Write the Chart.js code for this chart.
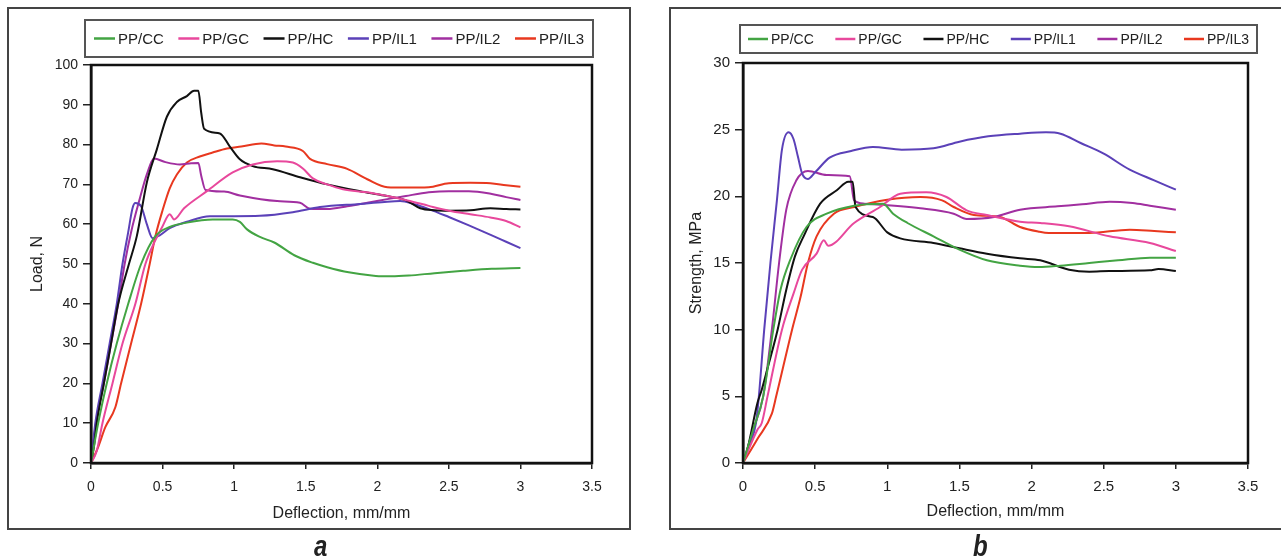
<!DOCTYPE html>
<html>
<head>
<meta charset="utf-8">
<script src="https://cdn.jsdelivr.net/npm/chart.js@4.4.1/dist/chart.umd.min.js"></script>
<style>
  body { margin: 0; background: #fff; }
  #page { position: relative; width: 1281px; height: 559px; overflow: hidden; }
  .panel { position: absolute; border: 2px solid #444; box-sizing: border-box; }
  canvas { position: absolute; }
  .cap { position: absolute; font: italic bold 24px "Liberation Sans", Arial, sans-serif; line-height: 24px; color: #222; transform: scaleY(1.25); }
</style>
</head>
<body>
<div id="page">
  <div class="panel" style="left:7px;top:7px;width:624px;height:523px"></div>
  <div class="panel" style="left:669px;top:7px;width:620px;height:523px"></div>
  <canvas id="chartA" width="624" height="523" style="left:7px;top:7px"></canvas>
  <canvas id="chartB" width="612" height="523" style="left:669px;top:7px"></canvas>
  <div class="cap" style="left:314px;top:534px">a</div>
  <div class="cap" style="left:973px;top:534px">b</div>
</div>
<script>
// series names and colours (same for both panels)
const seriesNames = ['PP/CC', 'PP/GC', 'PP/HC', 'PP/IL1', 'PP/IL2', 'PP/IL3'];
const seriesColors = ['#43a443', '#e8489c', '#111111', '#5b41b8', '#a12fa0', '#e8381f'];

// panel a: load (N) vs deflection
const loadCC = [[0,0],[0.05,10],[0.11,20],[0.18,30],[0.26,40],[0.35,50],[0.45,57],[0.55,59.3],[0.67,60.4],[0.85,61.2],[0.99,61.2],[1.04,60.6],[1.09,58.7],[1.18,56.8],[1.28,55.4],[1.42,52.2],[1.55,50.3],[1.65,49.2],[1.8,47.9],[1.99,47],[2.1,46.9],[2.22,47.1],[2.4,47.7],[2.6,48.3],[2.8,48.8],[3.0,49]];
const loadGC = [[0,0],[0.04,3],[0.08,10],[0.15,20],[0.22,30],[0.31,40],[0.38,50],[0.45,56],[0.5,59.5],[0.55,62.5],[0.58,61.2],[0.65,64],[0.81,68.3],[0.99,73],[1.13,75],[1.3,75.8],[1.41,75.5],[1.48,74],[1.55,71.5],[1.65,70],[1.76,68.8],[1.93,68],[2.08,67],[2.22,65.9],[2.36,64.6],[2.5,63.4],[2.65,62.5],[2.79,61.7],[2.9,60.8],[3.0,59.2]];
const loadHC = [[0,0],[0.02,4],[0.04,10],[0.09,20],[0.14,30],[0.19,40],[0.265,50],[0.32,57],[0.39,70.5],[0.46,78.8],[0.53,87],[0.6,90.7],[0.67,92.2],[0.72,93.5],[0.75,93.5],[0.77,88],[0.79,84],[0.9,82.8],[0.97,79.5],[1.04,76.3],[1.13,74.6],[1.27,73.8],[1.46,71.8],[1.65,70],[1.88,68.3],[2.05,67.2],[2.2,66],[2.3,64],[2.4,63.5],[2.5,63.4],[2.65,63.5],[2.79,64],[2.9,63.8],[3.0,63.7]];
const loadIL1 = [[0,0],[0.03,10],[0.08,20],[0.13,30],[0.18,40],[0.22,50],[0.26,58],[0.29,64],[0.31,65.3],[0.35,64.5],[0.39,60],[0.43,56.5],[0.48,57.2],[0.55,59],[0.67,60.6],[0.83,62],[1.0,62],[1.18,62.1],[1.41,63],[1.6,64.3],[1.88,65.1],[2.05,65.6],[2.16,65.8],[2.26,65],[2.36,63.8],[2.5,61.8],[2.64,59.7],[2.8,57.2],[2.9,55.6],[3.0,54]];
const loadIL2 = [[0,0],[0.035,10],[0.09,20],[0.14,30],[0.19,40],[0.235,50],[0.28,58],[0.34,66.3],[0.39,72.5],[0.44,76.5],[0.52,75.6],[0.62,75],[0.7,75.3],[0.75,75.4],[0.77,72.2],[0.8,68.6],[0.93,68.2],[1.04,67.2],[1.3,65.8],[1.46,65.4],[1.53,63.9],[1.65,63.8],[1.79,64.5],[1.95,65.5],[2.07,66.3],[2.2,67.1],[2.36,68],[2.5,68.3],[2.64,68.3],[2.8,67.6],[2.9,66.8],[3.0,66.1]];
const loadIL3 = [[0,0],[0.05,4],[0.1,9],[0.17,14],[0.21,20],[0.28,30],[0.35,40],[0.41,50],[0.45,57],[0.5,63.5],[0.55,69],[0.6,72.5],[0.67,75.5],[0.76,77],[0.85,78],[0.95,79],[1.05,79.5],[1.19,80.3],[1.28,79.8],[1.36,79.5],[1.48,78.4],[1.53,76.4],[1.65,75.1],[1.79,73.9],[1.93,71.3],[2.07,69.3],[2.2,69.2],[2.36,69.3],[2.5,70.3],[2.65,70.4],[2.79,70.3],[2.9,69.8],[3.0,69.4]];

// panel b: strength (MPa) vs deflection
const strengthCC = [[0,0],[0.07,2.5],[0.14,5],[0.21,10],[0.26,13],[0.33,15.3],[0.44,17.7],[0.58,18.7],[0.77,19.3],[0.97,19.45],[1.04,18.7],[1.14,18],[1.32,17],[1.5,16],[1.69,15.2],[1.92,14.8],[2.05,14.7],[2.2,14.8],[2.4,15],[2.6,15.2],[2.82,15.4],[3.0,15.4]];
const strengthGC = [[0,0],[0.1,2.5],[0.13,3],[0.17,5],[0.27,10],[0.35,12.7],[0.41,14.5],[0.51,15.7],[0.56,16.7],[0.59,16.3],[0.77,18],[0.95,19.2],[1.09,20.2],[1.27,20.3],[1.41,19.95],[1.55,18.95],[1.69,18.6],[1.92,18.1],[2.06,18],[2.26,17.75],[2.54,17],[2.82,16.5],[3.0,15.9]];
const strengthHC = [[0,0],[0.03,1],[0.1,4.5],[0.13,5.5],[0.18,7.5],[0.24,10],[0.3,13],[0.36,15.5],[0.42,17],[0.535,19.45],[0.65,20.45],[0.73,21.1],[0.76,21.1],[0.78,19.2],[0.9,18.45],[1.0,17.3],[1.09,16.85],[1.32,16.5],[1.5,16.1],[1.69,15.7],[1.92,15.35],[2.06,15.2],[2.26,14.5],[2.4,14.35],[2.54,14.4],[2.82,14.45],[2.88,14.55],[3.0,14.4]];
const strengthIL1 = [[0,0],[0.05,1.5],[0.09,3],[0.11,5],[0.147,10],[0.19,15],[0.235,19.7],[0.27,23.5],[0.316,24.8],[0.35,24.3],[0.38,23],[0.41,21.7],[0.45,21.3],[0.5,21.8],[0.6,22.9],[0.75,23.4],[0.9,23.7],[1.1,23.5],[1.32,23.6],[1.5,24.1],[1.7,24.5],[1.92,24.7],[2.1,24.8],[2.2,24.7],[2.34,24],[2.5,23.2],[2.68,22],[2.85,21.2],[3.0,20.5]];
const strengthIL2 = [[0,0],[0.07,2.5],[0.14,5],[0.2,10],[0.25,15],[0.3,19],[0.37,21.2],[0.45,21.9],[0.58,21.6],[0.74,21.5],[0.77,19.7],[0.84,19.45],[1.23,19.1],[1.46,18.7],[1.55,18.3],[1.74,18.45],[1.92,19],[2.18,19.25],[2.35,19.4],[2.54,19.6],[2.7,19.5],[2.82,19.3],[3.0,19]];
const strengthIL3 = [[0,0],[0.1,1.8],[0.2,3.7],[0.23,5],[0.34,10],[0.4,12.5],[0.45,15],[0.51,17],[0.63,18.7],[0.77,19.2],[1.0,19.75],[1.23,19.95],[1.38,19.7],[1.46,19.2],[1.6,18.6],[1.78,18.45],[1.92,17.7],[2.05,17.35],[2.12,17.25],[2.4,17.25],[2.68,17.5],[2.85,17.4],[3.0,17.3]];

Chart.defaults.font.family = '"Liberation Sans", Arial, sans-serif';
Chart.defaults.color = '#222';

// legend drawn inside a grey box at a fixed spot
const boxLegend = {
  id: 'boxLegend',
  afterDraw(chart, args, opts) {
    const ctx = chart.ctx;
    ctx.save();
    ctx.strokeStyle = '#555';
    ctx.lineWidth = 2;
    ctx.strokeRect(opts.x, opts.y, opts.w, opts.h);
    ctx.font = opts.fontSize + 'px "Liberation Sans", Arial, sans-serif';
    const items = chart.data.datasets.map(ds => ({ label: ds.label, color: ds.borderColor, w: ctx.measureText(ds.label).width }));
    const used = items.reduce((s, it) => s + opts.lineLen + opts.gap + it.w, 0);
    const space = (opts.w - 2 * opts.pad - used) / (items.length - 1);
    const cy = opts.y + opts.h / 2;
    let x = opts.x + opts.pad;
    items.forEach(it => {
      ctx.strokeStyle = it.color;
      ctx.lineWidth = 2.5;
      ctx.beginPath();
      ctx.moveTo(x, cy);
      ctx.lineTo(x + opts.lineLen, cy);
      ctx.stroke();
      ctx.fillStyle = '#222';
      ctx.textBaseline = 'middle';
      ctx.fillText(it.label, x + opts.lineLen + opts.gap, cy + 1);
      x += opts.lineLen + opts.gap + it.w + space;
    });
    ctx.restore();
  }
};

// black frame round the plot area
const plotFrame = {
  id: 'plotFrame',
  afterDatasetsDraw(chart) {
    const { ctx, chartArea: a } = chart;
    ctx.save();
    ctx.strokeStyle = '#111';
    ctx.lineWidth = 2.5;
    ctx.strokeRect(a.left, a.top, a.right - a.left, a.bottom - a.top);
    ctx.restore();
  }
};

function makeDatasets(seriesList) {
  return seriesList.map((pts, i) => ({
    label: seriesNames[i],
    data: pts,
    borderColor: seriesColors[i],
    backgroundColor: seriesColors[i],
    borderWidth: 2,
    pointRadius: 0,
    showLine: true,
    cubicInterpolationMode: 'monotone'
  }));
}

function makeChart(id, seriesList, cfg) {
  return new Chart(document.getElementById(id), {
    type: 'scatter',
    data: { datasets: makeDatasets(seriesList) },
    options: {
      responsive: false,
      animation: false,
      devicePixelRatio: 1,
      layout: { padding: cfg.padding },
      plugins: {
        legend: { display: false },
        tooltip: { enabled: false },
        boxLegend: cfg.legend
      },
      scales: {
        x: {
          type: 'linear',
          min: 0,
          max: 3.5,
          ticks: {
            stepSize: 0.5, padding: cfg.xTickPad, font: { size: cfg.tickSize }, color: '#222', maxRotation: 0,
            callback: v => String(v)   // "1" not "1.0"
          },
          grid: { drawOnChartArea: false, tickLength: 6, color: '#222', lineWidth: 1.5 },
          border: { color: '#111', width: 2.5 },
          title: { display: true, text: 'Deflection, mm/mm', font: { size: 16 }, color: '#222', padding: 0 },
          afterFit(s) { s.height = cfg.xHeight; }
        },
        y: {
          min: 0,
          max: cfg.yMax,
          ticks: { stepSize: cfg.yStep, padding: 5, font: { size: cfg.tickSize }, color: '#222' },
          grid: { drawOnChartArea: false, tickLength: 8, color: '#222', lineWidth: 1.5 },
          border: { color: '#111', width: 2.5 },
          title: { display: true, text: cfg.yTitle, font: { size: 16 }, color: '#222', padding: 0 },
          afterFit(s) { s.width = cfg.yWidth; }
        }
      }
    },
    plugins: [boxLegend, plotFrame]
  });
}

makeChart('chartA', [loadCC, loadGC, loadHC, loadIL1, loadIL2, loadIL3], {
  padding: { left: 21, right: 39, top: 58, bottom: 7 },
  yWidth: 63, xHeight: 60, xTickPad: 10, tickSize: 14,
  yMax: 100, yStep: 10, yTitle: 'Load, N',
  legend: { x: 78, y: 13, w: 508, h: 37, fontSize: 15, lineLen: 21, gap: 3, pad: 9 }
});

makeChart('chartB', [strengthCC, strengthGC, strengthHC, strengthIL1, strengthIL2, strengthIL3], {
  padding: { left: 18, right: 33, top: 56, bottom: 9 },
  yWidth: 56, xHeight: 58, xTickPad: 9, tickSize: 15,
  yMax: 30, yStep: 5, yTitle: 'Strength, MPa',
  legend: { x: 71, y: 18, w: 517, h: 28, fontSize: 14, lineLen: 20, gap: 3, pad: 8 }
});
</script>
</body>
</html>
